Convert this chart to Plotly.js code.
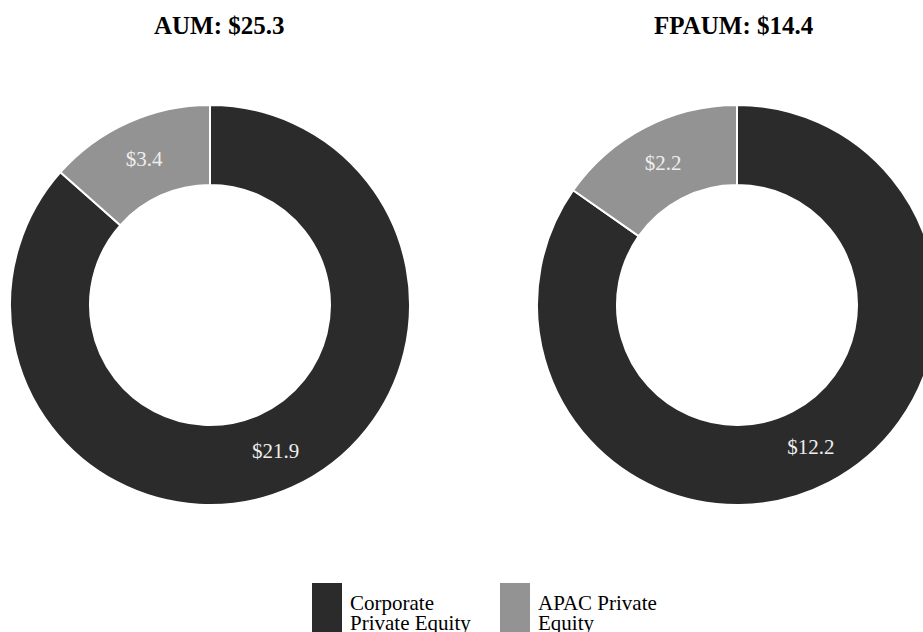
<!DOCTYPE html>
<html>
<head>
<meta charset="utf-8">
<script src="https://cdn.plot.ly/plotly-3.0.1.min.js"></script>
<style>
html,body{margin:0;padding:0;overflow:hidden;background:#fff;}
#chart{width:960px;height:632px;}
</style>
</head>
<body>
<div id="chart"></div>
<script>
var categories = ["Corporate Private Equity", "APAC Private Equity"];
var legendLines = [["Corporate", "Private Equity"], ["APAC Private", "Equity"]];
var aumValues = [21.9, 3.4];
var fpaumValues = [12.2, 2.2];
var chartTitles = ["AUM: $25.3", "FPAUM: $14.4"];
var colors = ["#2b2b2b", "#939393"];

var W = 960, H = 632;
var font = "Liberation Serif";

function pie(values, x0, x1) {
  return {
    type: "pie",
    labels: categories,
    values: values,
    sort: false,
    direction: "clockwise",
    rotation: 0,
    hole: 0.6,
    marker: {colors: colors, line: {color: "#ffffff", width: 2}},
    texttemplate: "$%{value:.1f}",
    textposition: "inside",
    insidetextorientation: "horizontal",
    textfont: {family: font, size: 21, color: "#eeeeee"},
    hoverinfo: "label+value",
    domain: {x: [x0 / W, x1 / W], y: [0, 1]},
    showlegend: false
  };
}

var data = [pie(aumValues, 10, 410), pie(fpaumValues, 537, 937)];

function py(p) { return (505 - p) / 400; }

var annotations = [
  {text: "<b>" + chartTitles[0] + "</b>", x: 219 / W, y: py(25), xref: "paper", yref: "paper",
   xanchor: "center", yanchor: "middle",
   showarrow: false, font: {family: font, size: 25, color: "#000"}},
  {text: "<b>" + chartTitles[1] + "</b>", x: 734 / W, y: py(25), xref: "paper", yref: "paper",
   xanchor: "center", yanchor: "middle",
   showarrow: false, font: {family: font, size: 25, color: "#000"}}
];
var shapes = [];
var legendX = [312, 500];
for (var i = 0; i < categories.length; i++) {
  shapes.push({type: "rect", xref: "paper", yref: "paper",
    x0: legendX[i] / W, x1: (legendX[i] + 30) / W,
    y0: py(583), y1: py(640),
    fillcolor: colors[i], line: {width: 0}});
  for (var j = 0; j < legendLines[i].length; j++) {
    annotations.push({text: legendLines[i][j], x: (legendX[i] + 36) / W, y: py(603 + 20 * j),
      xref: "paper", yref: "paper", xanchor: "left", yanchor: "middle", align: "left",
      showarrow: false, font: {family: font, size: 21, color: "#000"}});
  }
}

var layout = {
  width: W, height: H,
  margin: {l: 0, r: 0, t: 105, b: 127},
  paper_bgcolor: "#fff",
  showlegend: false,
  annotations: annotations,
  shapes: shapes,
  font: {family: font}
};

Plotly.newPlot("chart", data, layout, {displayModeBar: false, staticPlot: true});
</script>
</body>
</html>
